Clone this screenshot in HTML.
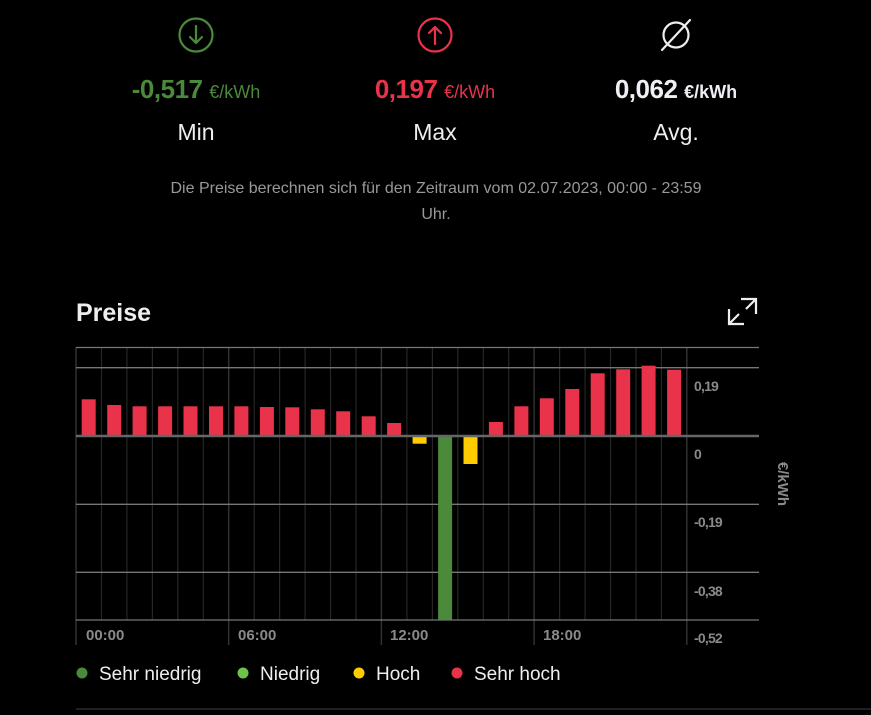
<!DOCTYPE html>
<html><head><meta charset="utf-8"><style>
html,body{margin:0;padding:0;background:#000;width:871px;height:715px;overflow:hidden}
svg{display:block;font-family:"Liberation Sans",sans-serif}
</style></head><body>
<svg width="871" height="715" viewBox="0 0 871 715" xmlns="http://www.w3.org/2000/svg">
<rect width="871" height="715" fill="#000"/>
<g fill="none" stroke-width="2.2" stroke-linecap="round" stroke-linejoin="round">
<circle cx="196" cy="35" r="16.5" stroke="#4a8a3a"/>
<path d="M196 26v17M190 37l6 6 6-6" stroke="#4a8a3a"/>
<circle cx="435" cy="35" r="16.5" stroke="#e8334a"/>
<path d="M435 44V27M429 33l6-6 6 6" stroke="#e8334a"/>
<circle cx="676" cy="35" r="12.5" stroke="#eee"/>
<path d="M662 50L690 20" stroke="#eee"/>
</g>
<g font-weight="bold" font-size="26" text-anchor="middle" letter-spacing="-0.5">
<text x="196" y="98" fill="#4a8a3a">-0,517 <tspan font-size="18" font-weight="normal" letter-spacing="0">€/kWh</tspan></text>
<text x="435" y="98" fill="#e8334a">0,197 <tspan font-size="18" font-weight="normal" letter-spacing="0">€/kWh</tspan></text>
<text x="676" y="98" fill="#eeeef4">0,062 <tspan font-size="18" font-weight="bold" letter-spacing="0">€/kWh</tspan></text>
</g>
<g font-size="23" text-anchor="middle" fill="#eee">
<text x="196" y="140">Min</text><text x="435" y="140">Max</text><text x="676" y="140">Avg.</text>
</g>
<g font-size="16" text-anchor="middle" fill="#999">
<text x="436" y="193">Die Preise berechnen sich für den Zeitraum vom 02.07.2023, 00:00 - 23:59</text>
<text x="436" y="219">Uhr.</text>
</g>
<text x="76" y="321" font-size="25" font-weight="bold" fill="#eee">Preise</text>
<g fill="none" stroke="#eee" stroke-width="2.2">
<path d="M741 299h15v15M756 299l-10 10M744 324h-15v-15M729 324l10-10"/>
</g>
<g stroke="#262626" stroke-width="1.2">
<path d="M101.5 347V620M126.9 347V620M152.4 347V620M177.8 347V620M203.3 347V620M254.2 347V620M279.6 347V620M305.1 347V620M330.5 347V620M356 347V620M406.9 347V620M432.4 347V620M457.8 347V620M483.3 347V620M508.7 347V620M559.6 347V620M585.1 347V620M610.5 347V620M636 347V620M661.4 347V620"/>
</g>
<g stroke="#333" stroke-width="1.4">
<path d="M76 347V645M228.7 347V645M381.4 347V645M534.1 347V645M686.8 347V645"/>
</g>
<g stroke="#777" stroke-width="1.3">
<path d="M76 347.5H759M76 367.7H759M76 504.3H759M76 572.3H759M76 620H759"/>
</g>
<g fill="#e8334a">
<rect x="81.7" y="399.3" width="14" height="36.7"/>
<rect x="107.2" y="405" width="14" height="31"/>
<rect x="132.6" y="406.3" width="14" height="29.7"/>
<rect x="158.1" y="406.3" width="14" height="29.7"/>
<rect x="183.5" y="406.3" width="14" height="29.7"/>
<rect x="209" y="406.3" width="14" height="29.7"/>
<rect x="234.4" y="406.3" width="14" height="29.7"/>
<rect x="259.9" y="407" width="14" height="29"/>
<rect x="285.3" y="407.3" width="14" height="28.7"/>
<rect x="310.8" y="409.3" width="14" height="26.7"/>
<rect x="336.2" y="411.3" width="14" height="24.7"/>
<rect x="361.7" y="416.3" width="14" height="19.7"/>
<rect x="387.1" y="423" width="14" height="13"/>
<rect x="488.9" y="422" width="14" height="14"/>
<rect x="514.4" y="406.3" width="14" height="29.7"/>
<rect x="539.8" y="398.3" width="14" height="37.7"/>
<rect x="565.3" y="389" width="14" height="47"/>
<rect x="590.7" y="373.3" width="14" height="62.7"/>
<rect x="616.2" y="369.3" width="14" height="66.7"/>
<rect x="641.6" y="365.7" width="14" height="70.3"/>
<rect x="667.1" y="369.7" width="14" height="66.3"/>
</g>
<rect x="412.6" y="436" width="14" height="7.7" fill="#ffcc00"/>
<rect x="463.5" y="436" width="14" height="28" fill="#ffcc00"/>
<rect x="438.1" y="436" width="14" height="184" fill="#4a8a3a"/>
<path d="M76 436H759" stroke="#666" stroke-width="2.5"/>
<g font-size="15" font-weight="bold" fill="#8a8a8a">
<text x="86" y="640">00:00</text><text x="238" y="640">06:00</text><text x="390" y="640">12:00</text><text x="543" y="640">18:00</text>
</g>
<g font-size="14" font-weight="bold" fill="#8a8a8a" letter-spacing="-0.8">
<text x="694" y="391">0,19</text><text x="694" y="459">0</text><text x="694" y="527">-0,19</text><text x="694" y="596">-0,38</text><text x="694" y="643">-0,52</text>
</g>
<text x="0" y="0" font-size="15" font-weight="bold" fill="#8a8a8a" text-anchor="middle" transform="translate(778 484) rotate(90)">€/kWh</text>
<g font-size="19" fill="#eee">
<circle cx="82" cy="673" r="5.5" fill="#4a8a3a"/><text x="99" y="680">Sehr niedrig</text>
<circle cx="243" cy="673" r="5.5" fill="#6cc24a"/><text x="260" y="680">Niedrig</text>
<circle cx="359" cy="673" r="5.5" fill="#ffcc00"/><text x="376" y="680">Hoch</text>
<circle cx="457" cy="673" r="5.5" fill="#e8334a"/><text x="474" y="680">Sehr hoch</text>
</g>
<path d="M76 709H871" stroke="#333" stroke-width="1.2"/>
</svg>
</body></html>
